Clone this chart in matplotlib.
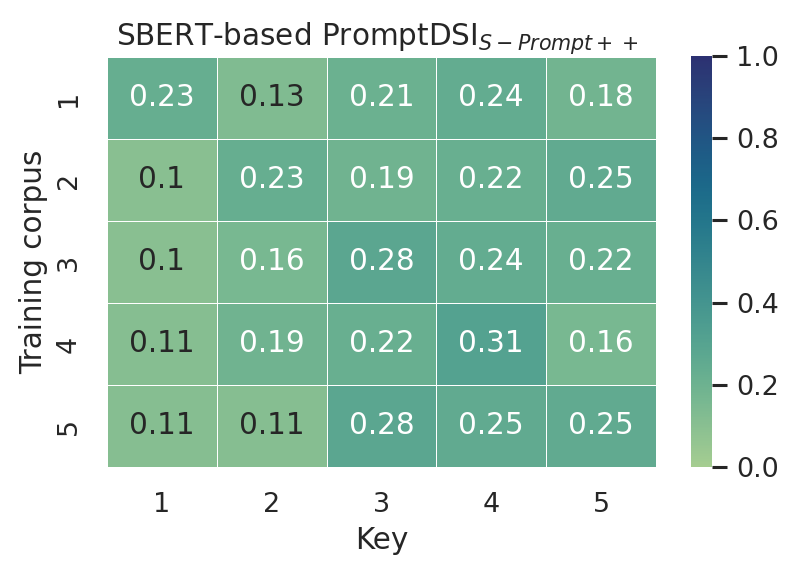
import numpy as np
import matplotlib
matplotlib.use("Agg")
import matplotlib.pyplot as plt
import seaborn as sns

sns.set_theme(style="white", context="notebook", font_scale=1.18)
plt.rcParams['font.family'] = ['DejaVu Sans']

row_labels = ["1", "2", "3", "4", "5"]
col_labels = ["1", "2", "3", "4", "5"]
values = [
    [0.23, 0.13, 0.21, 0.24, 0.18],
    [0.10, 0.23, 0.19, 0.22, 0.25],
    [0.10, 0.16, 0.28, 0.24, 0.22],
    [0.11, 0.19, 0.22, 0.31, 0.16],
    [0.11, 0.11, 0.28, 0.25, 0.25],
]

fig = plt.figure(figsize=(796/150, 574/150), dpi=150)
ax = fig.add_axes([107/796, 1-467/574, 549/796, 410/574])
cax = fig.add_axes([691/796, 1-467/574, 21/796, 411/574])
sns.heatmap(np.array(values), ax=ax, cbar_ax=cax, cmap="crest", vmin=0, vmax=1,
            annot=True, fmt=".2g", linewidths=0.4, linecolor="white",
            annot_kws={"fontsize": 14.16},
            xticklabels=col_labels, yticklabels=row_labels)
ax.set_title("SBERT-based PromptDSI$_{S-Prompt++}$", fontsize=14.16, x=0.493)
ax.set_xlabel("Key", fontsize=14.16)
ax.set_ylabel("Training corpus", fontsize=14.16)
ax.tick_params(labelsize=12.98, length=0, pad=12)
cax.tick_params(labelsize=12.98, length=7.08, width=1.475, pad=4.6, left=False, right=True)
cax.yaxis.set_ticks([0, 0.2, 0.4, 0.6, 0.8, 1.0])
fig.savefig("out.png", dpi=150)
